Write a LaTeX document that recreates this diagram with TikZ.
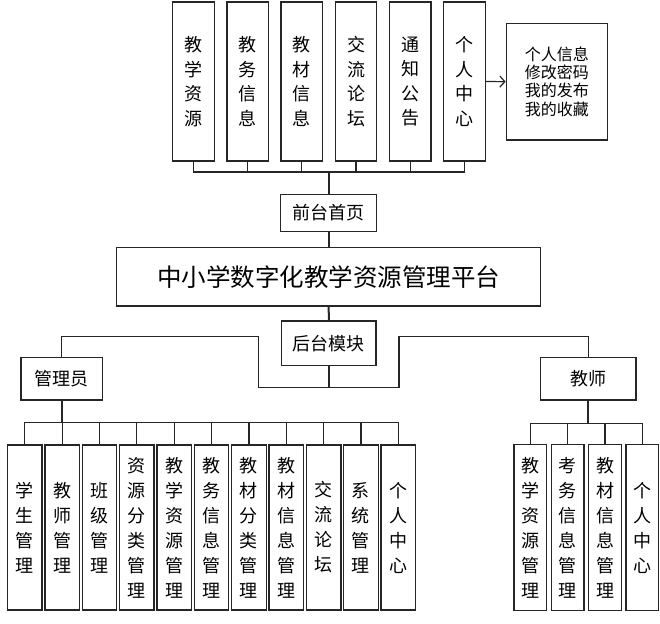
\documentclass[tikz,border=0pt]{standalone}
\usepackage{fontspec}
\newfontfamily\cjk{Noto Sans CJK SC}
\usetikzlibrary{arrows.meta}
\begin{document}
\begin{tikzpicture}[x=1pt,y=-1pt,
  box/.style={draw=black!85, line width=1.3pt, fill=white, inner sep=0pt, align=center,
    font=\cjk\fontsize{18}{24.5}\selectfont},
  topbox/.style={box, minimum width=41.5pt, minimum height=159pt},
  admbox/.style={box, minimum width=34.5pt, minimum height=165pt, font=\cjk\fontsize{18}{25}\selectfont},
  tchbox/.style={box, minimum width=32.7pt, minimum height=166pt, font=\cjk\fontsize{18}{25}\selectfont},
  conn/.style={draw=black!85, line width=1.2pt},
  trunk/.style={draw=black!85, line width=2pt}]
\fill[white] (0,0) rectangle (660,623);
\useasboundingbox (0,0) rectangle (660,623);

% top level
\node[topbox] (t1) at (193.4,81.5) {教\\学\\资\\源};
\node[topbox] (t2) at (247.6,81.5) {教\\务\\信\\息};
\node[topbox] (t3) at (301.8,81.5) {教\\材\\信\\息};
\node[topbox] (t4) at (356.0,81.5) {交\\流\\论\\坛};
\node[topbox] (t5) at (410.2,81.5) {通\\知\\公\\告};
\node[topbox] (t6) at (464.4,81.5) {个\\人\\中\\心};
\node[box, minimum width=101pt, minimum height=116.7pt, font=\cjk\fontsize{16}{18.3}\selectfont] (info) at (556.8,81.7) {个人信息\\修改密码\\我的发布\\我的收藏};
\draw[conn,-{Straight Barb[length=5pt,width=11pt]}] (t6.east) -- (info.west);

\node[box, minimum width=96pt, minimum height=37.4pt] (front) at (328.7,213) {前台首页};
\coordinate (fb) at (328.7,172);
\draw[conn] (t1.south) |- (fb) -| (t6.south);
\foreach \n in {t2,t3,t4,t5} \draw[conn] (\n.south) -- (\n.south |- fb);
\draw[trunk] (fb) -- (front.north);

\node[box, minimum width=424pt, minimum height=58.7pt, font=\cjk\fontsize{24.5}{28}\selectfont] (main) at (328.7,276.7) {中小学数字化教学资源管理平台};
\draw[trunk] (front.south) -- (main.north);

\node[box, minimum width=94.3pt, minimum height=44.7pt] (back) at (328.8,343.3) {后台模块};
\draw[trunk] (main.south) -- (back.north);
\coordinate (bj) at (328.8,387.3);
\draw[trunk] (back.south) -- (bj);

\node[box, minimum width=81.3pt, minimum height=42.3pt] (admin) at (61.7,378.8) {管理员};
\node[box, minimum width=95.3pt, minimum height=42.3pt] (teacher) at (588.3,378.8) {教师};
\coordinate (lb) at (258.3,336.7);
\coordinate (rb) at (399,336.7);
\draw[conn] (bj) -| (lb) -| (admin.north);
\draw[conn] (bj) -| (rb) -| (teacher.north);

% admin modules
\node[admbox] (a1) at (24.8,527.5) {学\\生\\管\\理};
\node[admbox] (a2) at (62.15,527.5) {教\\师\\管\\理};
\node[admbox] (a3) at (99.5,527.5) {班\\级\\管\\理};
\node[admbox] (a4) at (136.85,527.5) {资\\源\\分\\类\\管\\理};
\node[admbox] (a5) at (174.2,527.5) {教\\学\\资\\源\\管\\理};
\node[admbox] (a6) at (211.55,527.5) {教\\务\\信\\息\\管\\理};
\node[admbox] (a7) at (248.9,527.5) {教\\材\\分\\类\\管\\理};
\node[admbox] (a8) at (286.25,527.5) {教\\材\\信\\息\\管\\理};
\node[admbox] (a9) at (323.6,527.5) {交\\流\\论\\坛};
\node[admbox] (a10) at (360.95,527.5) {系\\统\\管\\理};
\node[admbox] (a11) at (398.3,527.5) {个\\人\\中\\心};
\coordinate (ab) at (61.7,422.7);
\draw[trunk] (admin.south) -- (ab);
\draw[conn] (a1.north) |- (ab) -| (a11.north);
\foreach \n in {a2,a3,a4,a5,a6,a7,a8,a9,a10} \draw[conn] (\n.north) -- (\n.north |- ab);

% teacher modules
\node[tchbox] (b1) at (530.3,527.5) {教\\学\\资\\源\\管\\理};
\node[tchbox] (b2) at (567.65,527.5) {考\\务\\信\\息\\管\\理};
\node[tchbox] (b3) at (605.0,527.5) {教\\材\\信\\息\\管\\理};
\node[tchbox] (b4) at (642.35,527.5) {个\\人\\中\\心};
\coordinate (tb) at (588.3,423.3);
\draw[trunk] (teacher.south) -- (tb);
\draw[conn] (b1.north) |- (tb) -| (b4.north);
\foreach \n in {b2,b3} \draw[conn] (\n.north) -- (\n.north |- tb);
\end{tikzpicture}
\end{document}
